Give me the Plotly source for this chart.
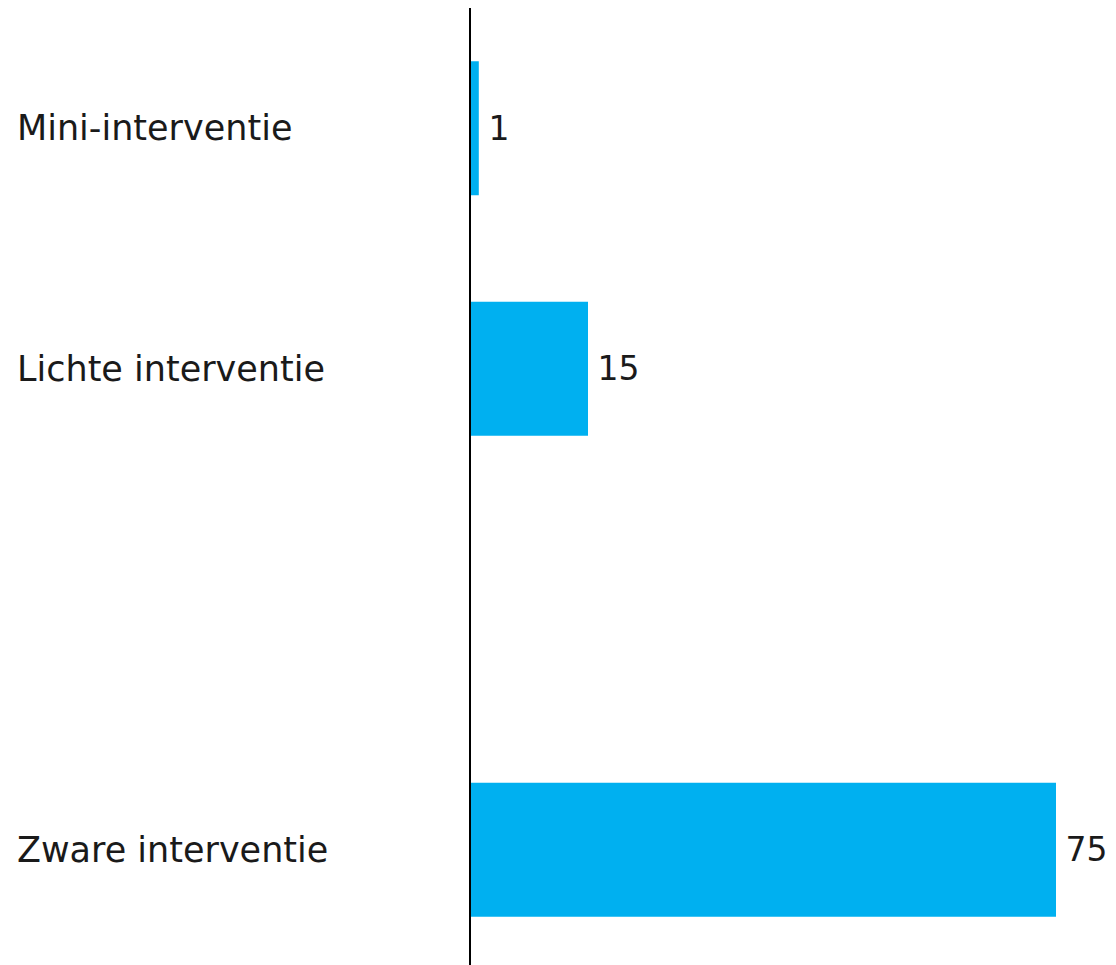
import plotly.graph_objects as go

categories = ["Mini-interventie", "Lichte interventie", " ", "Zware interventie"]
values = [1, 15, None, 75]
labels = ["1", "15", "", "75"]

FONT = "DejaVu Sans"
FS = 35
W, H = 1108, 962
ML, MR, MT, MB = 463, 0, 0, 0
plot_w = W - ML - MR

fig = go.Figure(go.Bar(
    x=values, y=categories, orientation="h",
    marker=dict(color="#00B0F0", line=dict(width=0)),
    text=labels, texttemplate="\u2009%{text}",
    textposition="outside", cliponaxis=False,
    textfont=dict(family=FONT, size=33, color="#1a1a1a"),
))

annotations = []
for c in categories:
    if c.strip():
        annotations.append(dict(
            x=-(ML - 7) / plot_w, xref="paper", y=c, yref="y",
            text=c, showarrow=False, xanchor="left", yanchor="middle",
            font=dict(family=FONT, size=FS, color="#1a1a1a"),
        ))

fig.update_layout(
    width=W, height=H,
    margin=dict(l=ML, r=MR, t=MT, b=MB),
    paper_bgcolor="white", plot_bgcolor="white",
    bargap=0.443, showlegend=False,
    annotations=annotations,
    xaxis=dict(range=[0, plot_w / 7.8], visible=False, fixedrange=True),
    yaxis=dict(autorange="reversed", showticklabels=False, ticks="",
               showgrid=False, zeroline=False, showline=True,
               linecolor="black", linewidth=2, type="category"),
)
fig.write_html("out.html")
